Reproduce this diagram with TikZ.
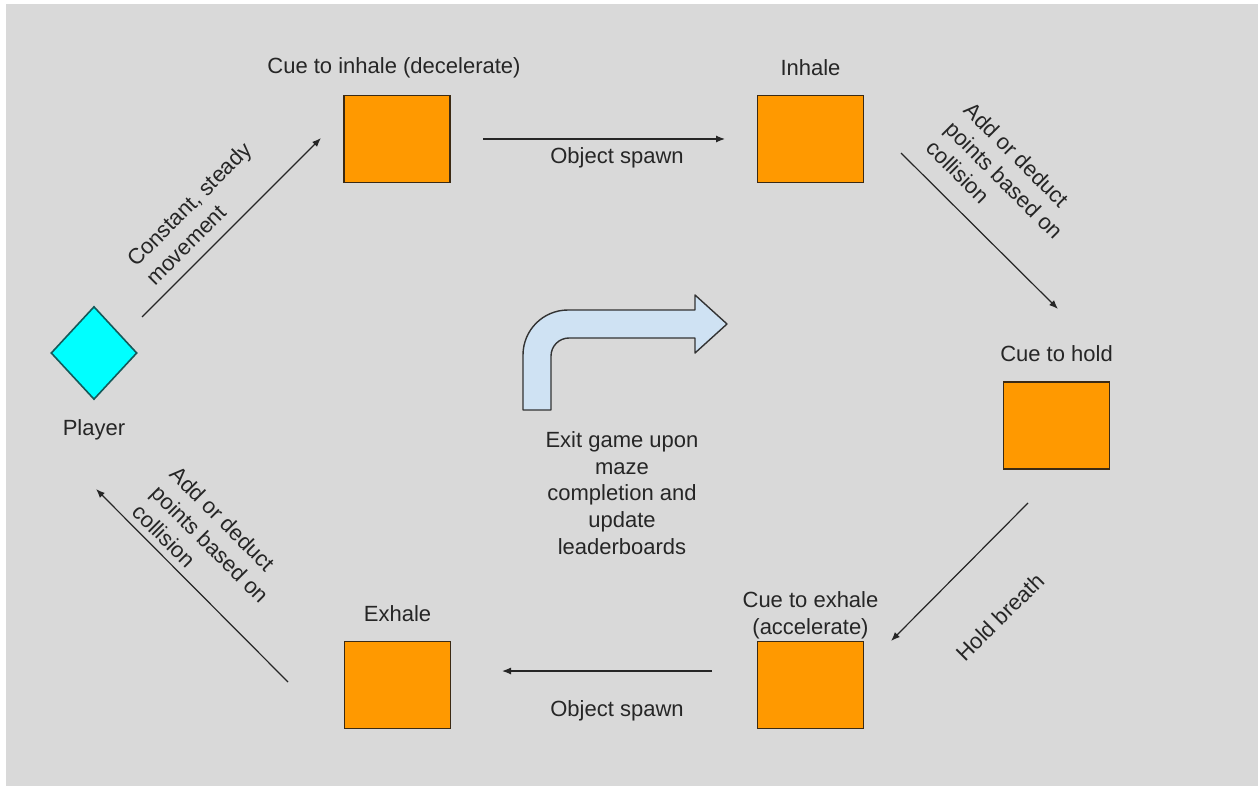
\documentclass[tikz,border=0pt]{standalone}
\usepackage{fontspec}
\setmainfont{Liberation Sans}
\usetikzlibrary{arrows.meta,shapes.geometric}
\definecolor{boardgray}{HTML}{D9D9D9}
\definecolor{cueorange}{HTML}{FF9900}
\definecolor{cueedge}{HTML}{3B2A14}
\definecolor{playercyan}{HTML}{00FFFF}
\definecolor{playeredge}{HTML}{145A5A}
\definecolor{exitblue}{HTML}{CFE2F3}
\definecolor{labelink}{HTML}{262626}
\tikzset{
  phase/.style={draw=cueedge,line width=1.6pt,fill=cueorange,minimum width=106pt,minimum height=87pt,inner sep=0pt},
  flow/.style={draw=black!85,line width=1.2pt,-{Latex[length=9pt,width=7pt]}},
  caption/.style={text=labelink,inner sep=0pt,align=center},
  sidenote/.style={text=labelink,inner sep=0pt,align=left},
}
\newcommand{\phasebox}[4]{%
  \node[phase] (#1) at (#2) {};
  \node[caption] (#1-label) at (#3) {#4};
}

\begin{document}
\begin{tikzpicture}[x=1pt,y=-1pt,font=\fontsize{22}{26.7}\selectfont]
        \useasboundingbox (0,0) rectangle (1258,786);
        \fill[boardgray] (6,4) rectangle (1258,786);
        % player and the five breathing phases
        \node[diamond,draw=playeredge,line width=1.6pt,fill=playercyan,minimum width=86pt,minimum height=93pt,inner sep=0pt] (player) at (94,353) {};
        \node[caption] (player-label) at (94,430) {Player};
        \phasebox{inhalecue}{397,139}{394,68}{Cue to inhale (decelerate)}
        \phasebox{inhale}{810.5,139}{810.5,68}{Inhale}
        \phasebox{holdcue}{1056.5,425.5}{1056.5,354}{Cue to hold}
        \phasebox{exhalecue}{810.5,685}{810.5,615}{Cue to exhale\\(accelerate)}
        \phasebox{exhale}{397.5,685}{397.5,614}{Exhale}
        % free arrow ends
        \coordinate (move-from) at (142,317);
        \coordinate (move-to) at (321,138);
        \coordinate (spawn-from) at (483,139);
        \coordinate (spawn-to) at (725,139);
        \coordinate (gain-from) at (901,153);
        \coordinate (gain-to) at (1058,309);
        \coordinate (hold-from) at (1028,503);
        \coordinate (hold-to) at (891,641);
        \coordinate (back-from) at (712,671);
        \coordinate (back-to) at (502,671);
        \coordinate (loss-from) at (288,682);
        \coordinate (loss-to) at (96,489);
        \draw[flow] (move-from) -- (move-to);
        \draw[flow] (spawn-from) -- (spawn-to);
        \draw[flow] (gain-from) -- (gain-to);
        \draw[flow] (hold-from) -- (hold-to);
        \draw[flow] (back-from) -- (back-to);
        \draw[flow] (loss-from) -- (loss-to);
        \node[sidenote,rotate=45,anchor=west] (move-note) at (140,272) {Constant, steady\\movement};
        \node[caption] (spawn-note) at (617,158) {Object spawn};
        \node[sidenote,rotate=-45,anchor=west] (gain-note) at (949,125) {Add or deduct\\points based on\\collision};
        \node[caption,rotate=45] (hold-note) at (1000,617) {Hold breath};
        \node[caption] (back-note) at (617,711) {Object spawn};
        \node[sidenote,rotate=-45,anchor=west] (loss-note) at (155,489) {Add or deduct\\points based on\\collision};
        % exit arrow in the middle
        \draw[draw=black!80,line width=1.4pt,fill=exitblue,line join=round] (523,410) -- (523,355) .. controls (523,330.1) and (543.1,310) .. (568,310) -- (695,310) -- (695,295) -- (727,324) -- (695,353) -- (695,338) -- (569,338) .. controls (559.06,338) and (551,346.06) .. (551,356) -- (551,410) -- cycle;
        \node[caption] (exit-note) at (622,493) {Exit game upon\\maze\\completion and\\update\\leaderboards};
      \end{tikzpicture}
\end{document}
